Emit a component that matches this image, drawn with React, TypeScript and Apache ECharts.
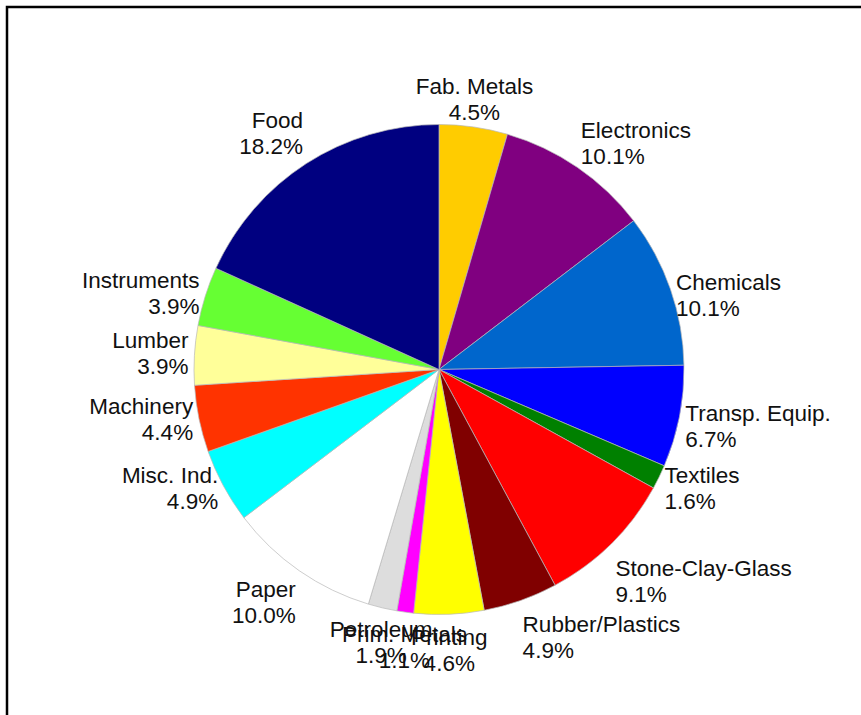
import React, { useEffect, useRef } from "react";
import * as echarts from "echarts";

// Sector names, clockwise from 12 o'clock
const sectorNames = [
  "Fab. Metals",
  "Electronics",
  "Chemicals",
  "Transp. Equip.",
  "Textiles",
  "Stone-Clay-Glass",
  "Rubber/Plastics",
  "Printing",
  "Prim. Metals",
  "Petroleum",
  "Paper",
  "Misc. Ind.",
  "Machinery",
  "Lumber",
  "Instruments",
  "Food",
];

// Share of total, percent
const sectorShares = [4.5, 10.1, 10.1, 6.7, 1.6, 9.1, 4.9, 4.6, 1.1, 1.9, 10.0, 4.9, 4.4, 3.9, 3.9, 18.2];

const sectorColors = [
  "#FFCC00",
  "#800080",
  "#0066CC",
  "#0000FF",
  "#008000",
  "#FF0000",
  "#800000",
  "#FFFF00",
  "#FF00FF",
  "#DDDDDD",
  "#FFFFFF",
  "#00FFFF",
  "#FF3300",
  "#FFFF99",
  "#66FF33",
  "#000080",
];

const CX = 439;
const CY = 369.5;
const R = 245;
const GAP = 6;

export default function App() {
  const ref = useRef<HTMLDivElement>(null);

  useEffect(() => {
    if (!ref.current) return;
    const chart = echarts.init(ref.current, null, { renderer: "svg" });
    const total = sectorShares.reduce((a, b) => a + b, 0);

    const labelLayout = (p: any) => {
      const i = p.dataIndex;
      let cum = 0;
      for (let k = 0; k < i; k++) cum += sectorShares[k];
      const mid = ((cum + sectorShares[i] / 2) / total) * Math.PI * 2;
      const theta = Math.PI / 2 - mid;
      const c = Math.cos(theta);
      const s = Math.sin(theta);
      const px = CX + (R + GAP) * c;
      const py = CY - (R + GAP) * s + 4 + 5 * c;
      const align = Math.abs(c) < 0.3 ? "center" : c > 0 ? "left" : "right";
      const verticalAlign = s > 0.5 ? "bottom" : s < -0.5 ? "top" : "middle";
      return { x: px, y: py, align, verticalAlign };
    };

    chart.setOption({
      animation: false,
      backgroundColor: "#ffffff",
      graphic: [
        {
          type: "rect",
          silent: true,
          shape: { x: 7, y: 7, width: 1200, height: 1200 },
          style: { fill: "none", stroke: "#000000", lineWidth: 2.5 },
        },
      ],
      series: [
        {
          type: "pie",
          center: [CX, CY],
          radius: R,
          startAngle: 90,
          clockwise: true,
          avoidLabelOverlap: false,
          itemStyle: { borderColor: "#b8b8b8", borderWidth: 0.7 },
          label: {
            show: true,
            position: "outside",
            formatter: (p: any) => `${p.name}\n${p.value.toFixed(1)}%`,
            fontFamily: "'Liberation Sans', Arial, sans-serif",
            fontSize: 22.5,
            lineHeight: 26,
            color: "#111111",
          },
          labelLine: { show: false },
          labelLayout,
          emphasis: { disabled: true },
          data: sectorNames.map((name, i) => ({
            name,
            value: sectorShares[i],
            itemStyle: { color: sectorColors[i] },
          })),
        },
      ],
    });
    return () => chart.dispose();
  }, []);

  return (
    <div
      ref={ref}
      style={{ position: "absolute", left: 0, top: 0, width: 861, height: 715 }}
    />
  );
}
